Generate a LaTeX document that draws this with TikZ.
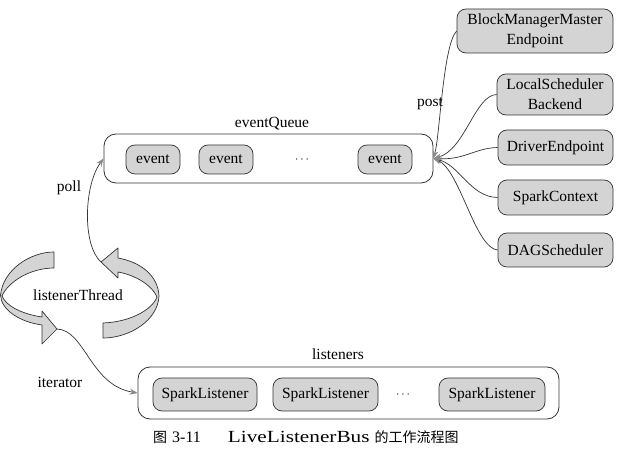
\documentclass[tikz,border=0pt]{standalone}
\usepackage{fontspec}
\setmainfont{Liberation Serif}
\newfontfamily\cjk{Noto Sans CJK SC}
\usetikzlibrary{arrows.meta}
\definecolor{boxgray}{HTML}{D4D4D4}
\definecolor{edgegray}{HTML}{333333}
\definecolor{tipgray}{HTML}{8A8A8A}
\tikzset{
  bigbox/.style={draw=edgegray, line width=0.8pt, rounded corners=12pt, inner sep=0pt},
  itembox/.style={draw=edgegray, fill=boxgray, line width=0.7pt, rounded corners=9pt, inner sep=0pt, align=center, font=\fontsize{15.5}{20}\selectfont},
  lbl/.style={inner sep=0pt, font=\fontsize{15.5}{18}\selectfont},
  dotslbl/.style={inner sep=0pt, font=\fontsize{13}{14}\selectfont},
  conn/.style={draw=edgegray, line width=0.7pt, -{Stealth[length=8pt,width=6pt,fill=tipgray,color=tipgray]}},
  ringarrow/.style={draw=edgegray, fill=boxgray, line width=0.7pt, line join=round}
}
\begin{document}
\begin{tikzpicture}[x=1pt,y=-1pt]
\useasboundingbox (0,0) rectangle (630,457);
% event queue
\node[bigbox, minimum width=329pt, minimum height=49pt] (eq) at (268.5,158.5) {};
\node[lbl] (eqlabel) at (272,124) {eventQueue};
\node[itembox, minimum width=54pt, minimum height=29pt] (e1) at (153,159.5) {event};
\node[itembox, minimum width=54pt, minimum height=29pt] (e2) at (226,159.5) {event};
\node[dotslbl] (edots) at (302,160) {$\cdots$};
\node[itembox, minimum width=54pt, minimum height=29pt] (e3) at (385,159.5) {event};
% producers
\node[itembox, minimum width=156pt, minimum height=44pt] (bm) at (535,31) {BlockManagerMaster\\Endpoint};
\node[itembox, minimum width=116pt, minimum height=41pt] (ls) at (555,94.5) {LocalScheduler\\Backend};
\node[itembox, minimum width=115pt, minimum height=35pt] (de) at (555.5,147.5) {DriverEndpoint};
\node[itembox, minimum width=115pt, minimum height=35pt] (sc) at (555.5,197.5) {SparkContext};
\node[itembox, minimum width=115pt, minimum height=34pt] (dag) at (555.5,250) {DAGScheduler};
\node[lbl] (post) at (430,104) {post};
\draw[conn] (bm.west) .. controls (443,45) and (440,135) .. (eq.east);
\draw[conn] (ls.west) .. controls (475,95) and (465,150) .. (eq.east);
\draw[conn] (de.west) .. controls (475,148) and (465,160) .. (eq.east);
\draw[conn] (sc.west) .. controls (470,197) and (460,165) .. (eq.east);
\draw[conn] (dag.west) .. controls (475,248) and (460,170) .. (eq.east);
% listener thread ring
\draw[ringarrow] (54,252) .. controls (30,252) and (3,270) .. (0.5,295)
  .. controls (1,310) and (20,322) .. (42,325) -- (42,344) -- (57,329) -- (42,311) -- (42,317)
  .. controls (22,314) and (6,306) .. (2,296)
  .. controls (8,282) and (30,268) .. (54,268) -- cycle;
\draw[ringarrow] (103,338) .. controls (130,338) and (158,320) .. (159,296)
  .. controls (158,275) and (140,262) .. (118,258) -- (118,248) -- (101,262) -- (118,278) -- (118,272)
  .. controls (135,275) and (152,285) .. (157,297)
  .. controls (152,310) and (130,322) .. (103,323) -- cycle;
\coordinate (rtip) at (101,262);
\coordinate (ltip) at (57,329);
\node[lbl] (thread) at (78,295) {listenerThread};
\node[lbl] (poll) at (69,188) {poll};
\draw[conn] (rtip) .. controls (82,245) and (84,185) .. (eq.west);
% listeners
\node[bigbox, minimum width=421pt, minimum height=52pt] (lst) at (348.5,393) {};
\node[lbl] (lstlabel) at (338,354) {listeners};
\node[itembox, minimum width=104pt, minimum height=33pt] (sl1) at (205,394.5) {SparkListener};
\node[itembox, minimum width=105pt, minimum height=33pt] (sl2) at (325.5,394.5) {SparkListener};
\node[dotslbl] (ldots) at (403,395) {$\cdots$};
\node[itembox, minimum width=106pt, minimum height=33pt] (sl3) at (492,394.5) {SparkListener};
\node[lbl] (iter) at (60,382) {iterator};
\draw[conn] (ltip) .. controls (85,330) and (90,385) .. (lst.west);
% caption
\node[inner sep=0pt, anchor=west] (caption) at (153,437) {{\cjk\fontsize{14}{14}\selectfont 图}\hspace{5pt}{\fontsize{16}{16}\selectfont 3-11}\hspace{27pt}\scalebox{1.25}[1]{\fontsize{17}{17}\selectfont LiveListenerBus}\hspace{5pt}{\cjk\fontsize{14}{14}\selectfont 的工作流程图}};
\end{tikzpicture}
\end{document}
